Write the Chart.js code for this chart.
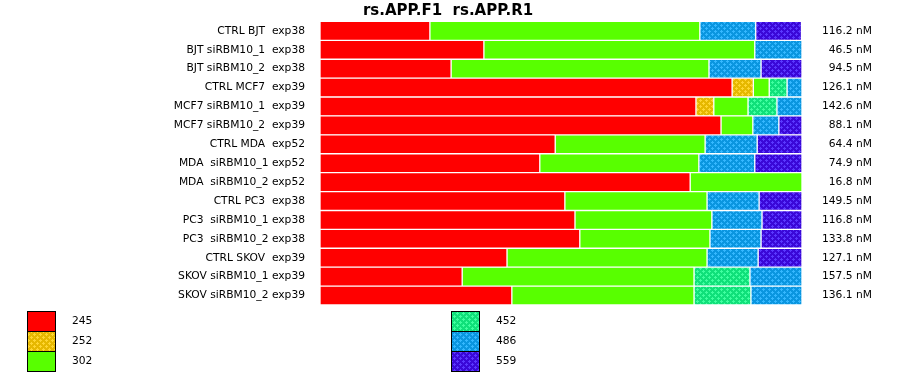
<!DOCTYPE html>
<html><head><meta charset="utf-8">
<script src="https://cdn.jsdelivr.net/npm/chart.js@4/dist/chart.umd.min.js"></script>
<style>html,body{margin:0;padding:0;background:#fff}#wrap{width:900px;height:375px}</style>
</head><body><div id="wrap"><canvas id="c" width="900" height="375"></canvas></div>
<script>
const categories = [
  "CTRL BJT  exp38", "BJT siRBM10_1  exp38", "BJT siRBM10_2  exp38",
  "CTRL MCF7  exp39", "MCF7 siRBM10_1  exp39", "MCF7 siRBM10_2  exp39",
  "CTRL MDA  exp52", "MDA  siRBM10_1 exp52", "MDA  siRBM10_2 exp52",
  "CTRL PC3  exp38", "PC3  siRBM10_1 exp38", "PC3  siRBM10_2 exp38",
  "CTRL SKOV  exp39", "SKOV siRBM10_1 exp39", "SKOV siRBM10_2 exp39"
];
const concentrations = [
  "116.2 nM", "46.5 nM", "94.5 nM", "126.1 nM", "142.6 nM", "88.1 nM",
  "64.4 nM", "74.9 nM", "16.8 nM", "149.5 nM", "116.8 nM", "133.8 nM",
  "127.1 nM", "157.5 nM", "136.1 nM"
];
const seriesNames = ["245", "252", "302", "452", "486", "559"];
const s245 = [22.8, 34.0, 27.2, 85.5, 78.0, 83.2, 48.8, 45.6, 76.8, 50.8, 52.9, 53.9, 38.8, 29.5, 39.8];
const s252 = [null, null, null, 4.4, 3.7, null, null, null, null, null, null, null, null, null, null];
const s302 = [56.0, 56.2, 53.5, 3.3, 7.1, 6.6, 31.1, 33.0, 23.2, 29.5, 28.4, 27.0, 41.5, 48.1, 37.8];
const s452 = [null, null, null, 3.7, 6.0, null, null, null, null, null, null, null, null, 11.6, 11.8];
const s486 = [11.6, 9.8, 10.8, 3.1, 5.2, 5.4, 10.8, 11.6, null, 10.8, 10.4, 10.6, 10.6, 10.8, 10.6];
const s559 = [9.5, null, 8.5, null, null, 4.8, 9.3, 9.8, null, 8.9, 8.3, 8.5, 9.1, null, null];
const seriesValues = [s245, s252, s302, s452, s486, s559];

const canvas = document.getElementById('c');
const ctx = canvas.getContext('2d');
function makePattern(base, dot) {
  const c = document.createElement('canvas');
  c.width = 6; c.height = 6;
  const g = c.getContext('2d');
  g.fillStyle = base; g.fillRect(0, 0, 6, 6);
  g.fillStyle = dot;
  [[1, 1], [4, 4]].forEach(([x, y]) => { g.fillRect(x - 1, y, 3, 1); g.fillRect(x, y - 1, 1, 3); });
  return ctx.createPattern(c, 'repeat');
}
const fills = [
  '#FF0000',
  makePattern('#E6B800', '#FFD633'),
  '#58FF00',
  makePattern('#10E07A', '#40FFA0'),
  makePattern('#0A96E0', '#35B8FF'),
  makePattern('#3A08D8', '#5A38FF')
];

const FONT_SIZE = 10.7;

const legendPlugin = {
  id: 'customLegend',
  afterDraw(chart) {
    const g = chart.ctx;
    g.save();
    chart.data.datasets.forEach((ds, i) => {
      const col = i < 3 ? 0 : 1, row = i % 3;
      const x = col ? 451 : 27, y = 311 + row * 20;
      g.fillStyle = ds.backgroundColor;
      g.fillRect(x, y, 28, 20);
      g.strokeStyle = '#000'; g.lineWidth = 1;
      g.strokeRect(x + 0.5, y + 0.5, 28, 20);
      g.fillStyle = '#000';
      g.font = FONT_SIZE + 'px "DejaVu Sans"';
      g.textBaseline = 'middle';
      g.textAlign = 'left';
      g.fillText(ds.label, col ? 496 : 72, y + 10.5);
    });
    g.restore();
  }
};

Chart.defaults.font.family = '"DejaVu Sans", sans-serif';
Chart.defaults.font.size = FONT_SIZE;
Chart.defaults.color = '#000';

new Chart(canvas, {
  type: 'bar',
  data: {
    labels: categories,
    datasets: seriesNames.map((name, i) => ({
      label: name,
      data: seriesValues[i],
      backgroundColor: fills[i],
      borderColor: '#FFFFFF',
      borderWidth: 1,
      borderSkipped: false,
      barPercentage: 1,
      categoryPercentage: 1
    }))
  },
  options: {
    indexAxis: 'y',
    responsive: false,
    animation: false,
    devicePixelRatio: 1,
    layout: { padding: { left: 24, right: 28, top: 0, bottom: 70 } },
    plugins: {
      legend: { display: false },
      tooltip: { enabled: false },
      title: {
        display: true,
        text: 'rs.APP.F1  rs.APP.R1',
        color: '#000',
        font: { size: 15, weight: 'bold' },
        padding: { top: 1, bottom: 1 }
      }
    },
    scales: {
      x: { stacked: true, min: 0, max: 100, display: false },
      y: {
        stacked: true,
        grid: { display: false, drawTicks: false },
        border: { display: false },
        ticks: { padding: 15, autoSkip: false, color: '#000' },
        afterFit(s) { s.width = 296; }
      },
      y2: {
        type: 'category',
        labels: concentrations,
        position: 'right',
        offset: true,
        grid: { display: false, drawTicks: false },
        border: { display: false },
        ticks: { crossAlign: 'far', autoSkip: false, color: '#000' },
        afterFit(s) { s.width = 70; }
      }
    }
  },
  plugins: [legendPlugin]
});
</script>
</body></html>
